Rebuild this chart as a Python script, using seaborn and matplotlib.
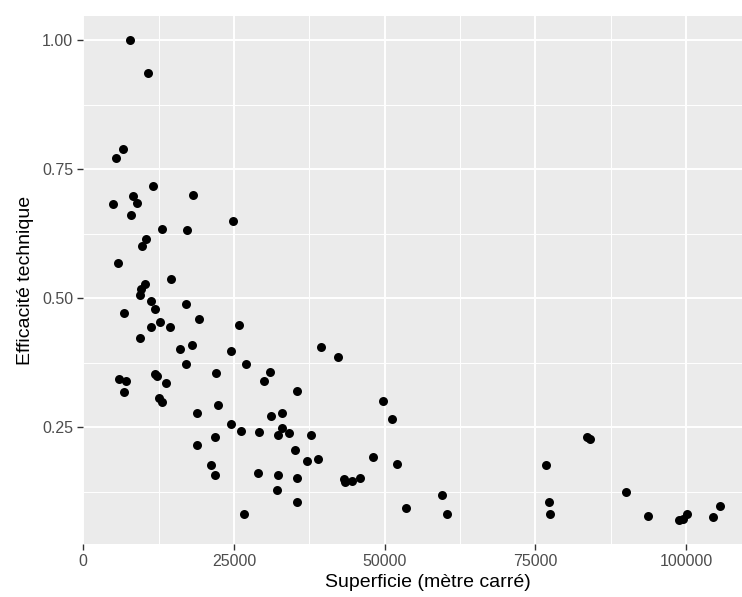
import numpy as np
import pandas as pd
import seaborn as sns
import matplotlib.pyplot as plt
from matplotlib.ticker import MultipleLocator

# Points
superficie = [7800, 10700, 6600, 5400, 11600, 8200, 18200, 9000, 5000, 8000,
              24800, 13100, 17300, 10450, 9700, 5850, 14600, 10200, 9550, 9450,
              11200, 17100, 11900, 6800, 19200, 12700, 11300, 14400, 25800, 9450,
              18100, 16100, 24500, 39500, 42200, 17100, 27000, 31000, 22100, 11900,
              12300, 6000, 7100, 13800, 30000, 6750, 35400, 12650, 13150, 49800,
              22300, 51200, 18800, 32900, 31100, 24500, 32900, 26200, 29100, 32300,
              34100, 37700, 21900, 83500, 84100, 18800, 35200, 48100, 38900, 37200,
              76700, 52100, 21200, 21800, 29000, 32300, 35400, 43200, 43500, 44500,
              45900, 59500, 90100, 32200, 35400, 77300, 105600, 53500, 60400, 77400,
              26700, 93700, 100100, 99500, 98800, 104400]
efficacite = [1.000, 0.936, 0.789, 0.771, 0.718, 0.698, 0.700, 0.684, 0.682, 0.661,
              0.650, 0.634, 0.632, 0.614, 0.601, 0.567, 0.536, 0.527, 0.517, 0.506,
              0.494, 0.488, 0.478, 0.472, 0.460, 0.454, 0.443, 0.443, 0.448, 0.422,
              0.409, 0.401, 0.397, 0.406, 0.386, 0.372, 0.372, 0.357, 0.354, 0.353,
              0.349, 0.343, 0.340, 0.335, 0.340, 0.318, 0.319, 0.306, 0.298, 0.300,
              0.292, 0.266, 0.277, 0.278, 0.271, 0.256, 0.249, 0.242, 0.240, 0.234,
              0.238, 0.234, 0.231, 0.230, 0.226, 0.215, 0.206, 0.192, 0.188, 0.185,
              0.177, 0.179, 0.176, 0.158, 0.161, 0.158, 0.151, 0.149, 0.144, 0.145,
              0.151, 0.119, 0.125, 0.128, 0.104, 0.104, 0.097, 0.094, 0.082, 0.082,
              0.081, 0.078, 0.081, 0.072, 0.070, 0.075]

x_ticks = [0, 25000, 50000, 75000, 100000]
y_ticks = [0.25, 0.50, 0.75, 1.00]

df = pd.DataFrame({"superficie": superficie, "efficacite": efficacite})

plt.rcParams['font.family'] = ['Liberation Sans', 'DejaVu Sans']

W, H = 742, 597
fig = plt.figure(figsize=(W / 100, H / 100), dpi=100)
# panel in pixels: left 83, right 773 (cropped), top 16, bottom 544
ax = fig.add_axes([83 / W, (H - 544) / H, (773 - 83) / W, (544 - 16) / H])
ax.set_facecolor('#EBEBEB')

sns.scatterplot(data=df, x="superficie", y="efficacite", ax=ax,
                color="black", s=42, linewidth=0, zorder=3)

ax.set_xlim(-30, 114400)
ax.set_ylim(0.0235, 1.0465)
ax.set_xticks(x_ticks)
ax.set_xticklabels([str(t) for t in x_ticks])
ax.set_yticks(y_ticks)
ax.set_yticklabels([f"{t:.2f}" for t in y_ticks])
ax.xaxis.set_minor_locator(MultipleLocator(12500))
ax.yaxis.set_minor_locator(MultipleLocator(0.125))

ax.grid(which='major', color='white', linewidth=1.4, zorder=0)
ax.grid(which='minor', color='white', linewidth=0.7, zorder=0)
ax.set_axisbelow(True)
for sp in ax.spines.values():
    sp.set_visible(False)

ax.tick_params(which='major', length=4, width=1, color='#333333',
               labelcolor='#4D4D4D', labelsize=11.5, pad=3)
ax.tick_params(which='minor', length=0)

ax.set_xlabel("Superficie (mètre carré)", fontsize=14, color='black', labelpad=4)
ax.set_ylabel("Efficacité technique", fontsize=14, color='black', labelpad=6)

fig.savefig("out.png", dpi=100)
